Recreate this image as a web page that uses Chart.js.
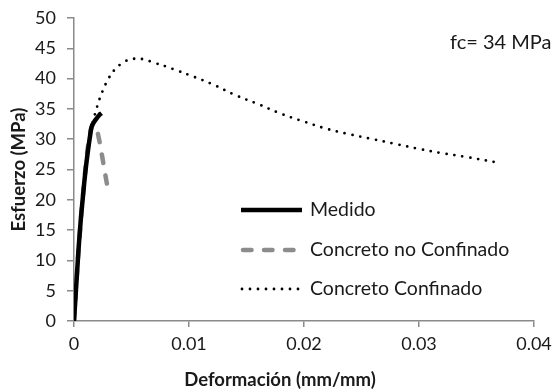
<!DOCTYPE html>
<html>
<head>
<meta charset="utf-8">
<script src="https://cdn.jsdelivr.net/npm/chart.js@4.4.1/dist/chart.umd.min.js"></script>
<style>
  html, body { margin: 0; padding: 0; background: #ffffff; }
  #wrap { width: 558px; height: 392px; }
</style>
</head>
<body>
<div id="wrap"><canvas id="c" width="558" height="392"></canvas></div>
<script>
// Strain (mm/mm) and stress (MPa) for each stress-strain curve
const strainMedido = [0, 0.0001, 0.0002, 0.0003, 0.0004, 0.0005, 0.0006, 0.0007, 0.0008, 0.0009, 0.001, 0.0011, 0.0012, 0.0013, 0.0014, 0.0015, 0.0016, 0.0018, 0.002, 0.0022, 0.0024];
const stressMedido = [0, 3, 6, 9, 12, 14.5, 17, 19, 21, 23, 24.8, 26.4, 27.9, 29.3, 30.6, 31.8, 32.4, 33.0, 33.5, 34.0, 34.3];

const strainNoConf = [0, 0.0002, 0.0004, 0.0006, 0.0008, 0.001, 0.0012, 0.0014, 0.0016, 0.0018, 0.002, 0.0022, 0.0024, 0.0026, 0.0028, 0.003];
const stressNoConf = [0, 6.2, 11.8, 16.8, 21.2, 25.2, 28.6, 31.0, 32.3, 32.5, 31.5, 29.8, 27.7, 25.5, 23.3, 21.3];

const strainConf = [0, 0.0003, 0.0006, 0.001, 0.0015, 0.002, 0.0025, 0.003, 0.0035, 0.004, 0.0045, 0.005, 0.0055, 0.006, 0.007, 0.008, 0.009, 0.01, 0.012, 0.014, 0.016, 0.018, 0.02, 0.022, 0.024, 0.026, 0.028, 0.03, 0.032, 0.034, 0.037];
const stressConf = [0, 9, 17, 25.5, 31.5, 35.3, 38.0, 40.0, 41.4, 42.3, 42.9, 43.2, 43.3, 43.2, 42.6, 42.0, 41.3, 40.6, 39.1, 37.3, 35.8, 34.2, 32.9, 31.7, 30.8, 30.0, 29.2, 28.4, 27.7, 27.1, 26.1];

const seriesLabels = ['Medido', 'Concreto no Confinado', 'Concreto Confinado'];
const xTicks = [0, 0.01, 0.02, 0.03, 0.04];
const yTicks = [0, 5, 10, 15, 20, 25, 30, 35, 40, 45, 50];
const noteText = 'fc= 34 MPa';
const xTitle = 'Deformación (mm/mm)';
const yTitle = 'Esfuerzo (MPa)';

const FONT = "Lato, 'Open Sans', 'Liberation Sans', sans-serif";
const TEXT = '#1a1a1a';
const AXIS = '#8a8a8a';

const toPoints = (xs, ys) => xs.map((x, i) => ({ x: x, y: ys[i] }));

// Legend inside the plot (drawn with each dataset's own line style),
// the fc note and the horizontal axis title
const annotations = {
  id: 'annotations',
  afterDraw(chart) {
    const ctx = chart.ctx;
    const rows = [210, 250, 289];
    chart.data.datasets.forEach((ds, i) => {
      const y = rows[i];
      ctx.save();
      ctx.strokeStyle = ds.borderColor;
      ctx.lineWidth = ds.borderWidth;
      ctx.lineCap = ds.borderCapStyle || 'butt';
      ctx.setLineDash(ds.borderDash || []);
      ctx.beginPath();
      ctx.moveTo(ds.legendStart, y);
      ctx.lineTo(302, y);
      ctx.stroke();
      ctx.setLineDash([]);
      ctx.fillStyle = TEXT;
      ctx.font = '19.5px ' + FONT;
      ctx.textAlign = 'left';
      ctx.textBaseline = 'middle';
      ctx.fillText(ds.label, 310, y);
      ctx.restore();
    });
    ctx.save();
    ctx.fillStyle = TEXT;
    ctx.textBaseline = 'middle';
    ctx.font = '20px ' + FONT;
    ctx.textAlign = 'left';
    ctx.fillText(noteText, 450, 43);
    ctx.font = 'bold 18.5px ' + FONT;
    ctx.textAlign = 'center';
    ctx.fillText(xTitle, 280, 380);
    ctx.restore();
  }
};

new Chart(document.getElementById('c'), {
  type: 'scatter',
  data: {
    datasets: [
      {
        label: seriesLabels[0],
        data: toPoints(strainMedido, stressMedido),
        showLine: true,
        borderColor: '#000000',
        borderWidth: 4.5,
        borderCapStyle: 'butt',
        pointRadius: 0,
        tension: 0.3,
        legendStart: 241
      },
      {
        label: seriesLabels[1],
        data: toPoints(strainNoConf, stressNoConf),
        showLine: true,
        borderColor: '#8c8c8c',
        borderWidth: 4.5,
        borderDash: [8.5, 12.5],
        borderCapStyle: 'round',
        pointRadius: 0,
        tension: 0.3,
        legendStart: 243
      },
      {
        label: seriesLabels[2],
        data: toPoints(strainConf, stressConf),
        showLine: true,
        borderColor: '#000000',
        borderWidth: 2.8,
        borderDash: [0, 8],
        borderCapStyle: 'round',
        pointRadius: 0,
        tension: 0.4,
        legendStart: 242
      }
    ]
  },
  options: {
    responsive: false,
    animation: false,
    events: [],
    layout: { padding: { left: 0, right: 24, top: 18, bottom: 0 } },
    plugins: {
      legend: { display: false },
      tooltip: { enabled: false }
    },
    scales: {
      x: {
        type: 'linear',
        min: 0,
        max: 0.04,
        afterBuildTicks(scale) { scale.ticks = xTicks.map(v => ({ value: v })); },
        afterFit(scale) {
          scale.height = 71;
          scale.paddingLeft = 0;
          scale.paddingRight = 0;
        },
        border: { display: true, color: AXIS, width: 1.5 },
        grid: { display: true, drawOnChartArea: false, drawTicks: true, tickLength: 6, color: AXIS, lineWidth: 1.5 },
        ticks: {
          color: TEXT,
          padding: 6,
          maxRotation: 0,
          font: { family: FONT, size: 18 },
          callback: v => String(v)
        }
      },
      y: {
        type: 'linear',
        min: 0,
        max: 50,
        afterBuildTicks(scale) { scale.ticks = yTicks.map(v => ({ value: v })); },
        afterFit(scale) {
          scale.width = 74;
          scale.paddingTop = 0;
          scale.paddingBottom = 0;
        },
        border: { display: true, color: AXIS, width: 1.5 },
        grid: { display: true, drawOnChartArea: false, drawTicks: true, tickLength: 7, color: AXIS, lineWidth: 1.5 },
        ticks: {
          color: TEXT,
          padding: 11,
          font: { family: FONT, size: 18 },
          callback: v => String(v)
        },
        title: {
          display: true,
          text: yTitle,
          color: TEXT,
          font: { family: FONT, size: 18.5, weight: 'bold' },
          padding: { top: 8, bottom: 0 }
        }
      }
    }
  },
  plugins: [annotations]
});
</script>
</body>
</html>
